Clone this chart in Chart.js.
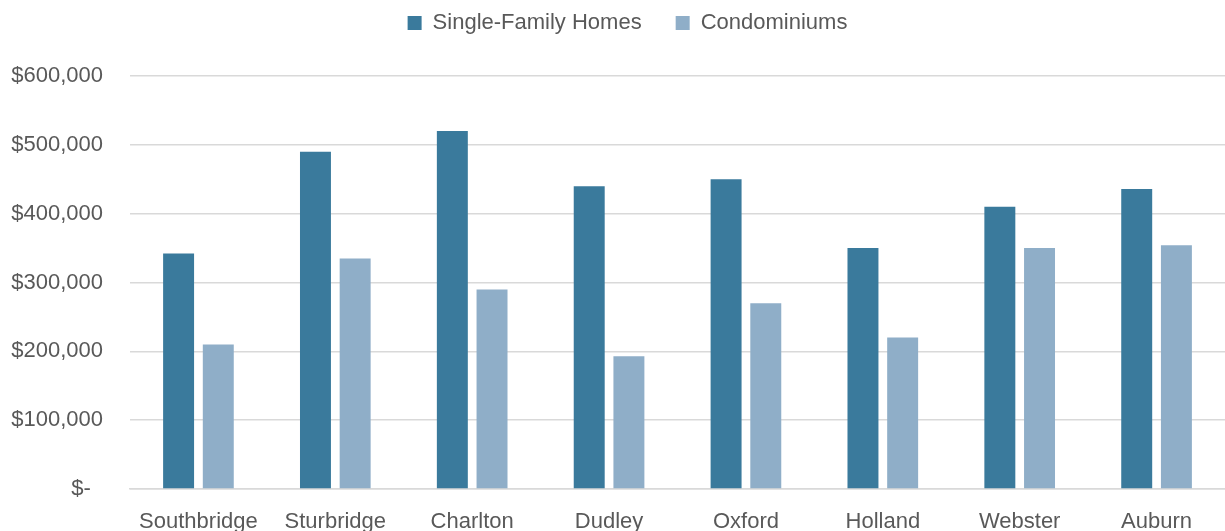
<!DOCTYPE html>
<html>
<head>
<meta charset="utf-8">
<script src="https://cdn.jsdelivr.net/npm/chart.js@4"></script>
<style>
  html, body { margin: 0; padding: 0; background: #fff; }
  #wrap { width: 1225px; height: 531px; }
</style>
</head>
<body>
<div id="wrap"><canvas id="grafico"></canvas></div>
<script>
const ciudades = ["Southbridge", "Sturbridge", "Charlton", "Dudley", "Oxford", "Holland", "Webster", "Auburn"];
const casas = [342000, 490000, 520000, 440000, 450000, 350000, 410000, 436000];
const condos = [210000, 335000, 290000, 193000, 270000, 220000, 350000, 354000];
const ticksY = [0, 100000, 200000, 300000, 400000, 500000, 600000];

const gris = "#595959";
const fuente = { family: "'Liberation Sans', Arial, sans-serif", size: 22 };

// formato tipo contabilidad de Excel
const formatoDinero = (v) => {
  if (v === 0) return "$-  ";
  return "$" + v.toLocaleString("en-US");
};

// ajusta alto y posicion de la leyenda
const ajusteLeyenda = {
  id: "ajusteLeyenda",
  beforeInit(chart) {
    const fitOriginal = chart.legend.fit;
    chart.legend.fit = function () {
      fitOriginal.bind(chart.legend)();
      this.height += 10;
    };
  },
  afterLayout(chart) {
    const ley = chart.legend;
    ley.top -= 22;
    ley.bottom -= 22;
    ley.left += 15;
    ley.right += 15;
  },
};

const ctx = document.getElementById("grafico");

new Chart(ctx, {
  type: "bar",
  data: {
    labels: ciudades,
    datasets: [
      {
        label: "Single-Family Homes",
        data: casas,
        backgroundColor: "#3A7A9C",
        categoryPercentage: 0.58,
        barPercentage: 0.78,
      },
      {
        label: "Condominiums",
        data: condos,
        backgroundColor: "#8FAEC8",
        categoryPercentage: 0.58,
        barPercentage: 0.78,
      },
    ],
  },
  options: {
    responsive: true,
    maintainAspectRatio: false,
    animation: false,
    layout: { padding: 0 },
    scales: {
      y: {
        min: 0,
        max: 600000,
        afterBuildTicks: (eje) => {
          eje.ticks = ticksY.map((v) => ({ value: v }));
        },
        afterFit: (eje) => {
          eje.width = 130;
        },
        border: { display: false },
        grid: { color: "#D9D9D9", lineWidth: 1.5, drawTicks: false },
        ticks: {
          color: gris,
          font: fuente,
          padding: 27,
          callback: formatoDinero,
        },
      },
      x: {
        afterFit: (eje) => {
          eje.height = 42;
        },
        border: { display: true, color: "#D9D9D9", width: 1.5 },
        grid: { display: false },
        ticks: {
          color: gris,
          font: fuente,
          padding: 12,
          maxRotation: 0,
        },
      },
    },
    plugins: {
      legend: {
        position: "top",
        labels: {
          color: gris,
          font: fuente,
          boxWidth: 14,
          boxHeight: 14,
          padding: 34,
        },
      },
      tooltip: { enabled: false },
    },
  },
  plugins: [ajusteLeyenda],
});
</script>
</body>
</html>
